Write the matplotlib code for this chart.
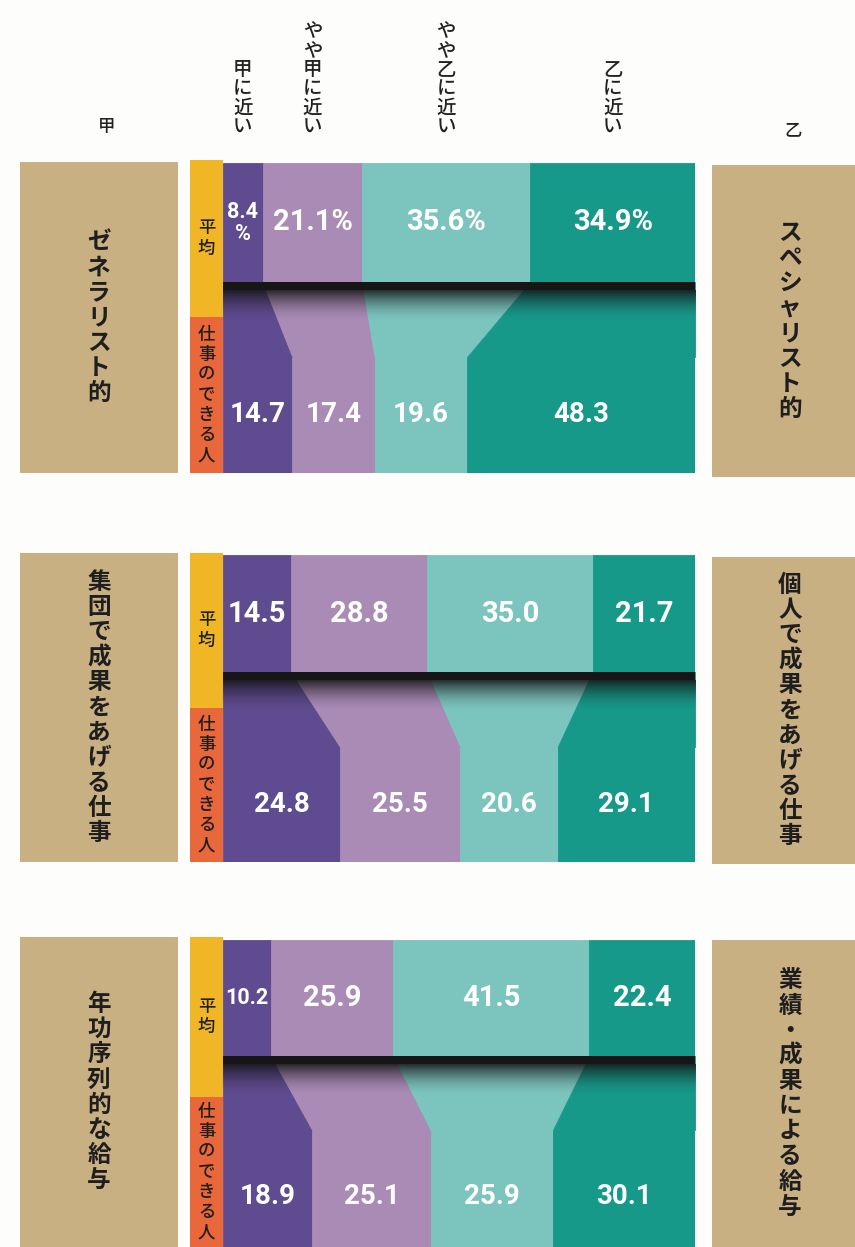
import numpy as np
import matplotlib
matplotlib.use('Agg')
import matplotlib.pyplot as plt
from matplotlib.patches import Rectangle

plt.rcParams['font.family'] = ['Noto Sans CJK JP', 'DejaVu Sans']

# data
columns = ['甲に近い', 'やや甲に近い', 'やや乙に近い', '乙に近い']
row_labels = ['平均', '仕事のできる人']
left_labels = ['ゼネラリスト的', '集団で成果をあげる仕事', '年功序列的な給与']
right_labels = ['スペシャリスト的', '個人で成果をあげる仕事', '業績・成果による給与']

avg_1 = [8.4, 21.1, 35.6, 34.9]
able_1 = [14.7, 17.4, 19.6, 48.3]
avg_2 = [14.5, 28.8, 35.0, 21.7]
able_2 = [24.8, 25.5, 20.6, 29.1]
avg_3 = [10.2, 25.9, 41.5, 22.4]
able_3 = [18.9, 25.1, 25.9, 30.1]

colors = ['#5f4b8f', '#a98bb6', '#7cc4be', '#17998a']
beige = '#c9b083'
yellow = '#f1b625'
orange = '#e8673b'
num_family = ['Roboto', 'DejaVu Sans']

W, H = 855, 1247
fig = plt.figure(figsize=(W / 100, H / 100), dpi=100)
fig.patch.set_facecolor('#fdfdfb')

bg = fig.add_axes([0, 0, 1, 1])
bg.set_xlim(0, W)
bg.set_ylim(H, 0)
bg.axis('off')

# layout in pixels: top bar start, top bar end, bottom bar start, end
# (the last panel runs off the bottom of the page)
panels = [(163, 282, 357, 473), (555, 672, 747, 862), (940, 1056, 1130, 1264)]
left_box = [(162, 473), (553, 862), (937, 1264)]
right_box = [(165, 477), (557, 864), (940, 1264)]
strips = [(160, 317, 473), (553, 708, 862), (937, 1097, 1264)]
bar_x0, bar_x1 = 223, 695

data = [(avg_1, able_1), (avg_2, able_2), (avg_3, able_3)]

def vert(s):
    return '\n'.join(s)

bg.text(107, 127, '甲', ha='center', va='center', fontsize=12.5, color='#222', fontweight='medium')
bg.text(793, 130, '乙', ha='center', va='center', fontsize=12.5, color='#222', fontweight='medium')

for k, ((avg, able), (y0, y1, y2, y3)) in enumerate(zip(data, panels)):
    # side boxes
    ly0, ly1 = left_box[k]
    bg.add_patch(Rectangle((20, ly0), 158, ly1 - ly0, color=beige, lw=0))
    bg.text(99, (ly0 + min(ly1, 1247)) / 2, vert(left_labels[k]), ha='center', va='center',
            fontsize=17, fontweight='bold', color='#1e1e1e', linespacing=1.06)
    ry0, ry1 = right_box[k]
    bg.add_patch(Rectangle((712, ry0), W - 712, ry1 - ry0, color=beige, lw=0))
    bg.text(790, (ry0 + min(ry1, 1247)) / 2, vert(right_labels[k]), ha='center', va='center',
            fontsize=17, fontweight='bold', color='#1e1e1e', linespacing=1.06)

    # yellow / orange strip
    s0, s1, s2 = strips[k]
    bg.add_patch(Rectangle((190, s0), 33, s1 - s0, color=yellow, lw=0))
    bg.add_patch(Rectangle((190, s1), 33, s2 - s1, color=orange, lw=0))
    bg.text(206.5, (s0 + s1) / 2, vert(row_labels[0]), ha='center', va='center',
            fontsize=12.5, color='#1e1e1e', linespacing=1.15, fontweight='medium')
    bg.text(206.5, (s1 + min(s2, 1247)) / 2, vert(row_labels[1]), ha='center', va='center',
            fontsize=12.5, color='#1e1e1e', linespacing=1.15, fontweight='medium')

    # bar axes, 1 y unit = 1 pixel
    ax = fig.add_axes([bar_x0 / W, 1 - y3 / H, (bar_x1 - bar_x0) / W, (y3 - y0) / H])
    t1, t2, t3 = y1 - y0, y2 - y0, y3 - y0
    avg = np.array(avg)
    able = np.array(able)
    lt = np.concatenate([[0], np.cumsum(avg)[:-1]])
    lb = np.concatenate([[0], np.cumsum(able)[:-1]])
    rt = lt + avg
    rb = lb + able

    ax.barh(t1 / 2, avg, left=lt, height=t1, color=colors, edgecolor=colors, lw=0.6)
    ax.barh((t2 + t3) / 2, able, left=lb, height=t3 - t2, color=colors, edgecolor=colors, lw=0.6)
    for i in range(4):
        ax.fill_betweenx([t1, t2], [lt[i], lb[i]], [rt[i], rb[i]],
                         color=colors[i], edgecolor=colors[i], lw=0.6)

    # dark band and shadow under the average bar
    ax.axhspan(t1, t1 + 8, color='#161616', lw=0, zorder=3)
    grad = np.zeros((60, 2, 4))
    grad[..., :3] = 0.08
    grad[..., 3] = (np.linspace(1, 0, 60) ** 1.8)[:, None] * 0.85
    ax.imshow(grad, extent=(0, 100, t1 + 40, t1 + 8), aspect='auto', zorder=3,
              interpolation='bilinear')

    # value labels
    for i in range(4):
        if k == 0:
            lab = f'{avg[i]:.1f}' + ('\n%' if avg[i] < 10 else '%')
        else:
            lab = f'{avg[i]:.1f}'
        small = avg[i] < 11
        ax.text(lt[i] + avg[i] / 2, t1 / 2, lab, ha='center', va='center', color='white',
                fontsize=15.5 if small else 21, fontweight='bold', family=num_family,
                linespacing=1.0, zorder=4)
        ax.text(lb[i] + able[i] / 2, (t2 + t3) / 2, f'{able[i]:.1f}', ha='center',
                va='center', color='white', fontsize=20, fontweight='bold',
                family=num_family, zorder=4)

    # column headings over the first panel
    if k == 0:
        for i in range(4):
            ax.text(lt[i] + avg[i] / 2, -(y0 - 137), vert(columns[i]), ha='center',
                    va='bottom', fontsize=14, color='#222', linespacing=1.02,
                    fontweight='medium', clip_on=False)

    ax.set_xlim(0, 100)
    ax.set_ylim(t3, 0)
    ax.axis('off')

plt.savefig('out.png', dpi=100, facecolor=fig.get_facecolor())
